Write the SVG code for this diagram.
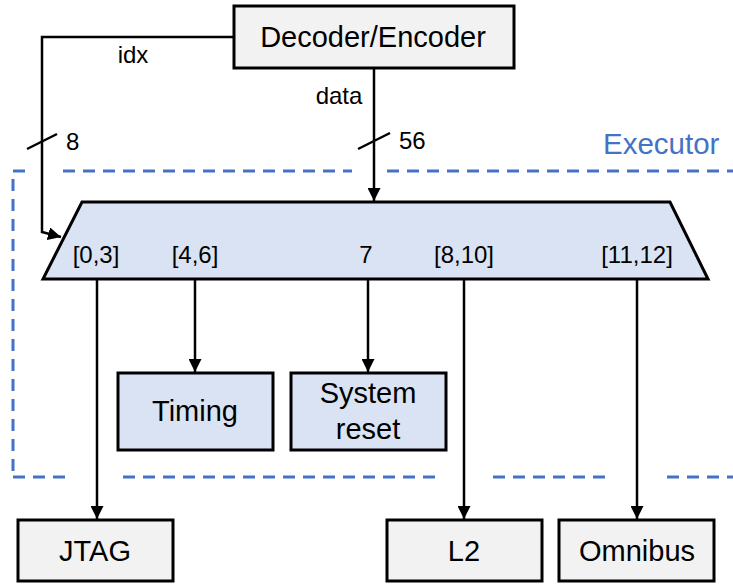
<svg xmlns="http://www.w3.org/2000/svg" width="733" height="584" viewBox="0 0 733 584">
  <defs>
    <marker id="arrow" viewBox="0 0 12 12" refX="12" refY="6" markerWidth="13" markerHeight="13" markerUnits="userSpaceOnUse" orient="auto">
      <path d="M0,0 L12,6 L0,12 Z" fill="#000"/>
    </marker>
    <style>
      .box { stroke: #000; stroke-width: 3; }
      .gray { fill: #f2f2f2; }
      .blue { fill: #dae3f3; }
      .lbl { font-family: "Liberation Sans", Arial, sans-serif; fill: #000; }
      .big { font-size: 29px; text-anchor: middle; }
      .small { font-size: 24px; }
      .mid { text-anchor: middle; }
      .wire { fill: none; stroke: #000; stroke-width: 2.5; }
      .dash { fill: none; stroke: #4472c4; stroke-width: 3; stroke-dasharray: 12 8; }
    </style>
  </defs>
  <rect width="733" height="584" fill="#fff"/>

  <!-- Executor boundary (open on the right, broken where wires pass) -->
  <g id="executor">
    <path class="dash" d="M25,171 H13 V477"/>
    <path class="dash" d="M63,171 H352"/>
    <path class="dash" d="M387,171 H733"/>
    <path class="dash" d="M13,477 H72"/>
    <path class="dash" d="M123,477 H442"/>
    <path class="dash" d="M493,477 H613"/>
    <path class="dash" d="M667,477 H733"/>
    <text class="lbl" x="603" y="154" font-size="29.5" style="fill:#4472c4">Executor</text>
  </g>

  <!-- Connectors -->
  <g id="connectors">
    <path class="wire" d="M233,37 H42 V232 L61,237" marker-end="url(#arrow)"/>
    <line class="wire" x1="27" y1="149" x2="57" y2="134"/>
    <text class="lbl small" x="66" y="150">8</text>
    <text class="lbl small mid" x="133" y="63">idx</text>

    <line class="wire" x1="374" y1="68" x2="374" y2="201" marker-end="url(#arrow)"/>
    <line class="wire" x1="358" y1="149" x2="390" y2="133"/>
    <text class="lbl small" x="399" y="149">56</text>
    <text class="lbl small mid" x="339" y="104">data</text>

    <line class="wire" x1="97" y1="279" x2="97" y2="519" marker-end="url(#arrow)"/>
    <line class="wire" x1="195" y1="279" x2="195" y2="372" marker-end="url(#arrow)"/>
    <line class="wire" x1="368" y1="279" x2="368" y2="372" marker-end="url(#arrow)"/>
    <line class="wire" x1="464" y1="279" x2="464" y2="519" marker-end="url(#arrow)"/>
    <line class="wire" x1="637" y1="279" x2="637" y2="519" marker-end="url(#arrow)"/>
  </g>

  <g id="decoder">
    <rect class="box gray" x="234" y="6" width="280" height="62"/>
    <text class="lbl big" x="373" y="47">Decoder/Encoder</text>
  </g>

  <g id="demux">
    <polygon class="box blue" points="82,202 670,202 708,279 43,279"/>
    <text class="lbl small mid" x="96" y="263">[0,3]</text>
    <text class="lbl small mid" x="195" y="263">[4,6]</text>
    <text class="lbl small mid" x="366" y="263">7</text>
    <text class="lbl small mid" x="464" y="263">[8,10]</text>
    <text class="lbl small mid" x="637" y="263">[11,12]</text>
  </g>

  <g id="timing">
    <rect class="box blue" x="118" y="373" width="155" height="77"/>
    <text class="lbl big" x="195" y="421">Timing</text>
  </g>

  <g id="system-reset">
    <rect class="box blue" x="291" y="373" width="155" height="77"/>
    <text class="lbl big" x="368" y="403">System</text>
    <text class="lbl big" x="368" y="439">reset</text>
  </g>

  <g id="jtag">
    <rect class="box gray" x="18" y="520" width="155" height="61"/>
    <text class="lbl big" x="95" y="561">JTAG</text>
  </g>

  <g id="l2">
    <rect class="box gray" x="387" y="520" width="155" height="61"/>
    <text class="lbl big" x="464" y="561">L2</text>
  </g>

  <g id="omnibus">
    <rect class="box gray" x="559" y="520" width="155" height="61"/>
    <text class="lbl big" x="637" y="561">Omnibus</text>
  </g>
</svg>
